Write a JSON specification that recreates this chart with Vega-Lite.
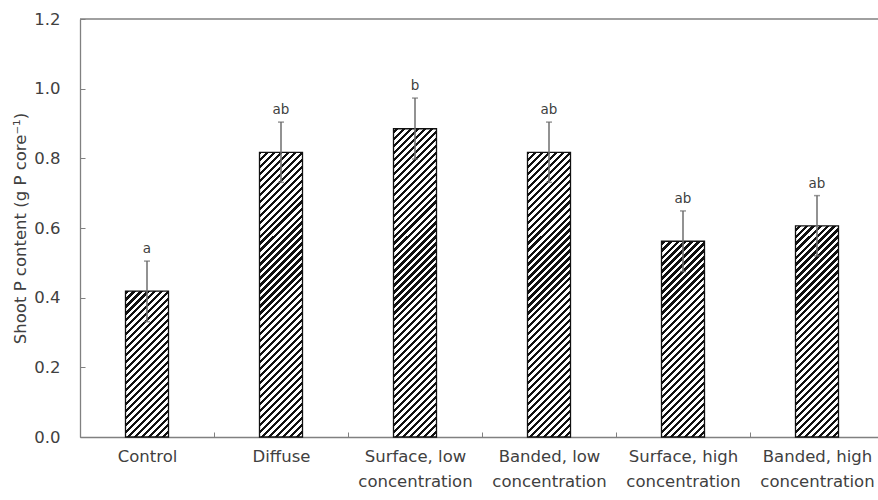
{
"$schema": "https://vega.github.io/schema/vega-lite/v6.json",
"width": 798,
"height": 418,
"autosize": {"type": "none"},
"padding": {"left": 80, "top": 19, "right": 0, "bottom": 63},
"background": "white",
"config": {"view": {"stroke": null}, "font": "DejaVu Sans"},
"data": {"values": [
{"treatment": "Control", "mean": 0.419, "lo": 0.331, "hi": 0.505, "letter": "a"},
{"treatment": "Diffuse", "mean": 0.817, "lo": 0.731, "hi": 0.904, "letter": "ab"},
{"treatment": "Surface, low concentration", "mean": 0.885, "lo": 0.798, "hi": 0.973, "letter": "b"},
{"treatment": "Banded, low concentration", "mean": 0.817, "lo": 0.731, "hi": 0.904, "letter": "ab"},
{"treatment": "Surface, high concentration", "mean": 0.562, "lo": 0.475, "hi": 0.649, "letter": "ab"},
{"treatment": "Banded, high concentration", "mean": 0.606, "lo": 0.52, "hi": 0.693, "letter": "ab"}
]},
"layer": [
{
"mark": {"type": "bar", "width": 43, "stroke": null, "fill": {"gradient": "linear", "x1": 0, "y1": 0, "x2": 0.11226, "y2": 1.09132, "stops": [
{"offset":0,"color":"#111"},{"offset":0.0068,"color":"#111"},{"offset":0.0068,"color":"#fff"},{"offset":0.0152,"color":"#fff"},
{"offset":0.0152,"color":"#111"},{"offset":0.0220,"color":"#111"},{"offset":0.0220,"color":"#fff"},{"offset":0.0303,"color":"#fff"},
{"offset":0.0303,"color":"#111"},{"offset":0.0371,"color":"#111"},{"offset":0.0371,"color":"#fff"},{"offset":0.0455,"color":"#fff"},
{"offset":0.0455,"color":"#111"},{"offset":0.0523,"color":"#111"},{"offset":0.0523,"color":"#fff"},{"offset":0.0606,"color":"#fff"},
{"offset":0.0606,"color":"#111"},{"offset":0.0674,"color":"#111"},{"offset":0.0674,"color":"#fff"},{"offset":0.0758,"color":"#fff"},
{"offset":0.0758,"color":"#111"},{"offset":0.0826,"color":"#111"},{"offset":0.0826,"color":"#fff"},{"offset":0.0909,"color":"#fff"},
{"offset":0.0909,"color":"#111"},{"offset":0.0977,"color":"#111"},{"offset":0.0977,"color":"#fff"},{"offset":0.1061,"color":"#fff"},
{"offset":0.1061,"color":"#111"},{"offset":0.1129,"color":"#111"},{"offset":0.1129,"color":"#fff"},{"offset":0.1212,"color":"#fff"},
{"offset":0.1212,"color":"#111"},{"offset":0.1280,"color":"#111"},{"offset":0.1280,"color":"#fff"},{"offset":0.1364,"color":"#fff"},
{"offset":0.1364,"color":"#111"},{"offset":0.1432,"color":"#111"},{"offset":0.1432,"color":"#fff"},{"offset":0.1515,"color":"#fff"},
{"offset":0.1515,"color":"#111"},{"offset":0.1583,"color":"#111"},{"offset":0.1583,"color":"#fff"},{"offset":0.1667,"color":"#fff"},
{"offset":0.1667,"color":"#111"},{"offset":0.1735,"color":"#111"},{"offset":0.1735,"color":"#fff"},{"offset":0.1818,"color":"#fff"},
{"offset":0.1818,"color":"#111"},{"offset":0.1886,"color":"#111"},{"offset":0.1886,"color":"#fff"},{"offset":0.1970,"color":"#fff"},
{"offset":0.1970,"color":"#111"},{"offset":0.2038,"color":"#111"},{"offset":0.2038,"color":"#fff"},{"offset":0.2121,"color":"#fff"},
{"offset":0.2121,"color":"#111"},{"offset":0.2189,"color":"#111"},{"offset":0.2189,"color":"#fff"},{"offset":0.2273,"color":"#fff"},
{"offset":0.2273,"color":"#111"},{"offset":0.2341,"color":"#111"},{"offset":0.2341,"color":"#fff"},{"offset":0.2424,"color":"#fff"},
{"offset":0.2424,"color":"#111"},{"offset":0.2492,"color":"#111"},{"offset":0.2492,"color":"#fff"},{"offset":0.2576,"color":"#fff"},
{"offset":0.2576,"color":"#111"},{"offset":0.2644,"color":"#111"},{"offset":0.2644,"color":"#fff"},{"offset":0.2727,"color":"#fff"},
{"offset":0.2727,"color":"#111"},{"offset":0.2795,"color":"#111"},{"offset":0.2795,"color":"#fff"},{"offset":0.2879,"color":"#fff"},
{"offset":0.2879,"color":"#111"},{"offset":0.2947,"color":"#111"},{"offset":0.2947,"color":"#fff"},{"offset":0.3030,"color":"#fff"},
{"offset":0.3030,"color":"#111"},{"offset":0.3098,"color":"#111"},{"offset":0.3098,"color":"#fff"},{"offset":0.3182,"color":"#fff"},
{"offset":0.3182,"color":"#111"},{"offset":0.3250,"color":"#111"},{"offset":0.3250,"color":"#fff"},{"offset":0.3333,"color":"#fff"},
{"offset":0.3333,"color":"#111"},{"offset":0.3402,"color":"#111"},{"offset":0.3402,"color":"#fff"},{"offset":0.3485,"color":"#fff"},
{"offset":0.3485,"color":"#111"},{"offset":0.3553,"color":"#111"},{"offset":0.3553,"color":"#fff"},{"offset":0.3636,"color":"#fff"},
{"offset":0.3636,"color":"#111"},{"offset":0.3705,"color":"#111"},{"offset":0.3705,"color":"#fff"},{"offset":0.3788,"color":"#fff"},
{"offset":0.3788,"color":"#111"},{"offset":0.3856,"color":"#111"},{"offset":0.3856,"color":"#fff"},{"offset":0.3939,"color":"#fff"},
{"offset":0.3939,"color":"#111"},{"offset":0.4008,"color":"#111"},{"offset":0.4008,"color":"#fff"},{"offset":0.4091,"color":"#fff"},
{"offset":0.4091,"color":"#111"},{"offset":0.4159,"color":"#111"},{"offset":0.4159,"color":"#fff"},{"offset":0.4242,"color":"#fff"},
{"offset":0.4242,"color":"#111"},{"offset":0.4311,"color":"#111"},{"offset":0.4311,"color":"#fff"},{"offset":0.4394,"color":"#fff"},
{"offset":0.4394,"color":"#111"},{"offset":0.4462,"color":"#111"},{"offset":0.4462,"color":"#fff"},{"offset":0.4545,"color":"#fff"},
{"offset":0.4545,"color":"#111"},{"offset":0.4614,"color":"#111"},{"offset":0.4614,"color":"#fff"},{"offset":0.4697,"color":"#fff"},
{"offset":0.4697,"color":"#111"},{"offset":0.4765,"color":"#111"},{"offset":0.4765,"color":"#fff"},{"offset":0.4848,"color":"#fff"},
{"offset":0.4848,"color":"#111"},{"offset":0.4917,"color":"#111"},{"offset":0.4917,"color":"#fff"},{"offset":0.5000,"color":"#fff"},
{"offset":0.5000,"color":"#111"},{"offset":0.5068,"color":"#111"},{"offset":0.5068,"color":"#fff"},{"offset":0.5152,"color":"#fff"},
{"offset":0.5152,"color":"#111"},{"offset":0.5220,"color":"#111"},{"offset":0.5220,"color":"#fff"},{"offset":0.5303,"color":"#fff"},
{"offset":0.5303,"color":"#111"},{"offset":0.5371,"color":"#111"},{"offset":0.5371,"color":"#fff"},{"offset":0.5455,"color":"#fff"},
{"offset":0.5455,"color":"#111"},{"offset":0.5523,"color":"#111"},{"offset":0.5523,"color":"#fff"},{"offset":0.5606,"color":"#fff"},
{"offset":0.5606,"color":"#111"},{"offset":0.5674,"color":"#111"},{"offset":0.5674,"color":"#fff"},{"offset":0.5758,"color":"#fff"},
{"offset":0.5758,"color":"#111"},{"offset":0.5826,"color":"#111"},{"offset":0.5826,"color":"#fff"},{"offset":0.5909,"color":"#fff"},
{"offset":0.5909,"color":"#111"},{"offset":0.5977,"color":"#111"},{"offset":0.5977,"color":"#fff"},{"offset":0.6061,"color":"#fff"},
{"offset":0.6061,"color":"#111"},{"offset":0.6129,"color":"#111"},{"offset":0.6129,"color":"#fff"},{"offset":0.6212,"color":"#fff"},
{"offset":0.6212,"color":"#111"},{"offset":0.6280,"color":"#111"},{"offset":0.6280,"color":"#fff"},{"offset":0.6364,"color":"#fff"},
{"offset":0.6364,"color":"#111"},{"offset":0.6432,"color":"#111"},{"offset":0.6432,"color":"#fff"},{"offset":0.6515,"color":"#fff"},
{"offset":0.6515,"color":"#111"},{"offset":0.6583,"color":"#111"},{"offset":0.6583,"color":"#fff"},{"offset":0.6667,"color":"#fff"},
{"offset":0.6667,"color":"#111"},{"offset":0.6735,"color":"#111"},{"offset":0.6735,"color":"#fff"},{"offset":0.6818,"color":"#fff"},
{"offset":0.6818,"color":"#111"},{"offset":0.6886,"color":"#111"},{"offset":0.6886,"color":"#fff"},{"offset":0.6970,"color":"#fff"},
{"offset":0.6970,"color":"#111"},{"offset":0.7038,"color":"#111"},{"offset":0.7038,"color":"#fff"},{"offset":0.7121,"color":"#fff"},
{"offset":0.7121,"color":"#111"},{"offset":0.7189,"color":"#111"},{"offset":0.7189,"color":"#fff"},{"offset":0.7273,"color":"#fff"},
{"offset":0.7273,"color":"#111"},{"offset":0.7341,"color":"#111"},{"offset":0.7341,"color":"#fff"},{"offset":0.7424,"color":"#fff"},
{"offset":0.7424,"color":"#111"},{"offset":0.7492,"color":"#111"},{"offset":0.7492,"color":"#fff"},{"offset":0.7576,"color":"#fff"},
{"offset":0.7576,"color":"#111"},{"offset":0.7644,"color":"#111"},{"offset":0.7644,"color":"#fff"},{"offset":0.7727,"color":"#fff"},
{"offset":0.7727,"color":"#111"},{"offset":0.7795,"color":"#111"},{"offset":0.7795,"color":"#fff"},{"offset":0.7879,"color":"#fff"},
{"offset":0.7879,"color":"#111"},{"offset":0.7947,"color":"#111"},{"offset":0.7947,"color":"#fff"},{"offset":0.8030,"color":"#fff"},
{"offset":0.8030,"color":"#111"},{"offset":0.8098,"color":"#111"},{"offset":0.8098,"color":"#fff"},{"offset":0.8182,"color":"#fff"},
{"offset":0.8182,"color":"#111"},{"offset":0.8250,"color":"#111"},{"offset":0.8250,"color":"#fff"},{"offset":0.8333,"color":"#fff"},
{"offset":0.8333,"color":"#111"},{"offset":0.8402,"color":"#111"},{"offset":0.8402,"color":"#fff"},{"offset":0.8485,"color":"#fff"},
{"offset":0.8485,"color":"#111"},{"offset":0.8553,"color":"#111"},{"offset":0.8553,"color":"#fff"},{"offset":0.8636,"color":"#fff"},
{"offset":0.8636,"color":"#111"},{"offset":0.8705,"color":"#111"},{"offset":0.8705,"color":"#fff"},{"offset":0.8788,"color":"#fff"},
{"offset":0.8788,"color":"#111"},{"offset":0.8856,"color":"#111"},{"offset":0.8856,"color":"#fff"},{"offset":0.8939,"color":"#fff"},
{"offset":0.8939,"color":"#111"},{"offset":0.9008,"color":"#111"},{"offset":0.9008,"color":"#fff"},{"offset":0.9091,"color":"#fff"},
{"offset":0.9091,"color":"#111"},{"offset":0.9159,"color":"#111"},{"offset":0.9159,"color":"#fff"},{"offset":0.9242,"color":"#fff"},
{"offset":0.9242,"color":"#111"},{"offset":0.9311,"color":"#111"},{"offset":0.9311,"color":"#fff"},{"offset":0.9394,"color":"#fff"},
{"offset":0.9394,"color":"#111"},{"offset":0.9462,"color":"#111"},{"offset":0.9462,"color":"#fff"},{"offset":0.9545,"color":"#fff"},
{"offset":0.9545,"color":"#111"},{"offset":0.9614,"color":"#111"},{"offset":0.9614,"color":"#fff"},{"offset":0.9697,"color":"#fff"},
{"offset":0.9697,"color":"#111"},{"offset":0.9765,"color":"#111"},{"offset":0.9765,"color":"#fff"},{"offset":0.9848,"color":"#fff"},
{"offset":0.9848,"color":"#111"},{"offset":0.9917,"color":"#111"},{"offset":0.9917,"color":"#fff"},{"offset":1,"color":"#fff"}
]}},
"encoding": {
"x": {"field": "treatment", "type": "nominal", "sort": null,
"scale": {"range": [0, 804], "paddingInner": 0, "paddingOuter": 0},
"axis": {"title": null, "labelAngle": 0, "labelFontSize": 16.5, "labelColor": "#404040", "labelPadding": 16, "labelLineHeight": 25,
"labelExpr": "length(datum.label) > 10 ? [replace(datum.label, ' concentration', ''), 'concentration'] : datum.label",
"tickBand": "extent", "tickSize": -5, "tickColor": "#808080", "domainColor": "#808080", "domainWidth": 1.3, "labelOverlap": false}},
"y": {"datum": 0, "type": "quantitative", "scale": {"domain": [0, 1.2], "nice": false},
"axis": {"title": "Shoot P content (g P core⁻¹)", "titleFontSize": 16.5, "titleFontWeight": "normal", "titleColor": "#404040", "titlePadding": 5,
"values": [0, 0.2, 0.4, 0.6, 0.8, 1.0, 1.2], "format": ".1f", "grid": false, "labelFontSize": 16.5, "labelColor": "#404040", "labelPadding": 25,
"tickSize": -5, "tickColor": "#808080", "domainColor": "#808080", "domainWidth": 1.3}},
"y2": {"datum": 1.2}
}
},
{
"mark": {"type": "bar", "width": 45, "fill": "white", "stroke": null},
"encoding": {
"x": {"field": "treatment", "type": "nominal", "sort": null},
"y": {"field": "mean", "type": "quantitative"},
"y2": {"datum": 1.2}
}
},
{
"data": {"values": [{}]},
"mark": {"type": "rule", "color": "#808080", "strokeWidth": 1.3},
"encoding": {"y": {"datum": 1.2, "type": "quantitative"}}
},
{
"mark": {"type": "bar", "width": 43, "fill": null, "fillOpacity": 0, "stroke": "#111", "strokeWidth": 1.3},
"encoding": {
"x": {"field": "treatment", "type": "nominal", "sort": null},
"y": {"field": "mean", "type": "quantitative"},
"y2": {"datum": 0}
}
},
{
"mark": {"type": "rule", "color": "#6e6e6e", "strokeWidth": 1.5},
"encoding": {
"x": {"field": "treatment", "type": "nominal", "sort": null},
"y": {"field": "lo", "type": "quantitative"},
"y2": {"field": "hi"}
}
},
{
"mark": {"type": "tick", "color": "#6e6e6e", "size": 6, "thickness": 1.5},
"encoding": {
"x": {"field": "treatment", "type": "nominal", "sort": null},
"y": {"field": "hi", "type": "quantitative"}
}
},
{
"mark": {"type": "tick", "color": "#6e6e6e", "size": 6, "thickness": 1.5},
"encoding": {
"x": {"field": "treatment", "type": "nominal", "sort": null},
"y": {"field": "lo", "type": "quantitative"}
}
},
{
"mark": {"type": "text", "fontSize": 13.5, "color": "#404040", "dy": -12, "baseline": "middle"},
"encoding": {
"x": {"field": "treatment", "type": "nominal", "sort": null},
"y": {"field": "hi", "type": "quantitative"},
"text": {"field": "letter"}
}
}
]
}
